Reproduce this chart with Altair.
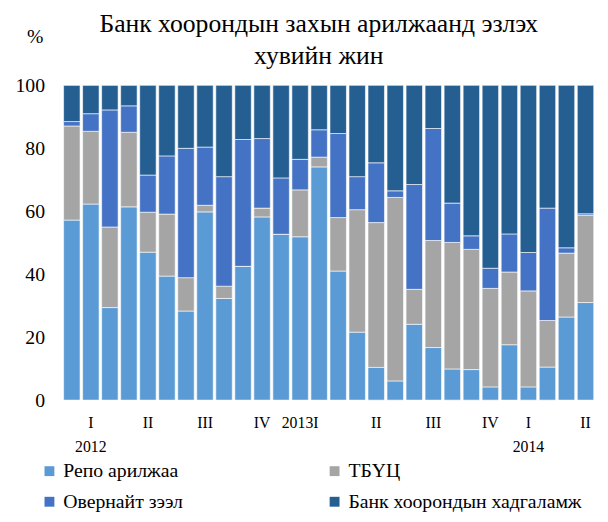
import altair as alt
import pandas as pd

# ---- data (shares, %) ----
series = ["Репо арилжаа", "ТБҮЦ", "Овернайт зээл", "Банк хоорондын хадгаламж"]
colors = ["#5B9BD5", "#A5A5A5", "#4472C4", "#255E91"]

repo = [57.2, 62.3, 29.4, 61.4, 47.0, 39.4, 28.3, 59.8, 32.3, 42.5, 58.2, 52.7, 51.9, 74.1,
        41.0, 21.6, 10.4, 6.1, 24.1, 16.7, 9.9, 9.7, 4.2, 17.6, 4.2, 10.5, 26.4, 31.0]
tbuc = [29.9, 23.1, 25.6, 23.7, 12.7, 19.7, 10.6, 2.1, 3.9, 0.0, 2.8, 0.0, 14.9, 3.1,
        17.0, 38.9, 46.0, 58.3, 11.1, 34.0, 40.2, 38.2, 31.3, 23.1, 30.5, 14.8, 20.3, 27.7]
overnight = [1.4, 5.6, 37.2, 8.4, 11.8, 18.5, 41.1, 18.5, 34.8, 40.3, 22.1, 17.9, 9.7, 8.7,
             26.7, 10.5, 19.0, 2.1, 33.3, 35.6, 12.5, 4.3, 6.4, 12.1, 12.2, 35.7, 1.7, 0.5]
deposit = [11.5, 9.0, 7.8, 6.5, 28.5, 22.4, 20.0, 19.6, 29.0, 17.2, 16.9, 29.4, 23.5, 14.1,
           15.3, 29.0, 24.6, 33.5, 31.5, 13.7, 37.4, 47.8, 58.1, 47.2, 53.1, 39.0, 51.6, 40.8]

tick_pos = [1, 4, 7, 10, 12, 16, 19, 22, 24, 27]
tick_line1 = ["I", "II", "III", "IV", "2013I", "II", "III", "IV", "I", "II"]
tick_line2 = ["2012", "", "", "", "", "", "", "", "2014", ""]

rows = []
for k, vals in enumerate([repo, tbuc, overnight, deposit]):
    for i, v in enumerate(vals):
        rows.append({"idx": i, "series": series[k], "ord": k, "value": v})
df = pd.DataFrame(rows)

# label expression for x axis
parts = []
for p, a, b in zip(tick_pos, tick_line1, tick_line2):
    lab = f"['{a}','{b}']" if b else f"'{a}'"
    parts.append(f"datum.value == {p} ? {lab} : ")
label_expr = "".join(parts) + "''"

FONT = "Liberation Serif"

chart = alt.Chart(df).mark_bar(
    stroke="white", strokeWidth=0.8, strokeOpacity=0.75
).encode(
    x=alt.X("idx:O",
            scale=alt.Scale(paddingInner=0.135, paddingOuter=0.07),
            axis=alt.Axis(title=None, labelExpr=label_expr, labelAngle=0,
                          ticks=False, domain=False, labelPadding=15,
                          labelFont=FONT, labelFontSize=16, labelColor="black",
                          labelLineHeight=24)),
    y=alt.Y("value:Q", stack="zero",
            scale=alt.Scale(domain=[0, 100], nice=False),
            axis=alt.Axis(values=[0, 20, 40, 60, 80, 100], grid=False, ticks=False,
                          domain=False, labelPadding=18, labelFont=FONT,
                          labelFontSize=20, labelColor="black",
                          title="%", titleAngle=0, titleX=-28, titleY=-49,
                          titleAlign="center", titleBaseline="middle",
                          titleFont=FONT, titleFontSize=20, titleFontWeight="normal",
                          titleColor="black")),
    color=alt.Color("series:N",
                    scale=alt.Scale(domain=series, range=colors),
                    legend=alt.Legend(title=None, orient="none", legendX=-23, legendY=381,
                                      direction="horizontal", columns=2,
                                      columnPadding=143, rowPadding=11,
                                      symbolType="square", symbolSize=100,
                                      symbolStrokeWidth=0, labelOffset=4,
                                      labelFont=FONT, labelFontSize=20,
                                      labelLimit=400,
                                      labelColor="black", padding=0)),
    order=alt.Order("ord:Q", sort="ascending"),
).properties(
    width=540,
    height=319,
    title=alt.TitleParams(
        text=["Банк хоорондын захын арилжаанд эзлэх", "хувийн жин"],
        font=FONT, fontSize=26, fontWeight="normal", color="black",
        anchor="middle", lineHeight=32, offset=-42, dx=-10,
    ),
    padding={"left": 55, "top": 75, "right": 5, "bottom": 112},
    autosize=alt.AutoSizeParams(type="none"),
).configure_view(stroke=None).configure_legend(
    labelFont=FONT, labelFontSize=20, labelColor="black"
)

chart.save("out.html", embed_options={"renderer": "svg", "actions": False})
